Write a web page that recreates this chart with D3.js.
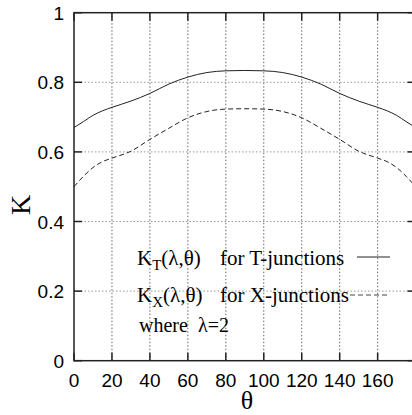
<!DOCTYPE html>
<html>
<head>
<meta charset="utf-8">
<style>
  body { margin: 0; background: #fff; }
  svg { display: block; }
</style>
</head>
<body>
<svg width="412" height="415" id="chart"></svg>
<script src="https://d3js.org/d3.v7.min.js"></script>
<script>

// angle theta in degrees
const theta = [0, 5, 10, 15, 20, 30, 40, 50, 60, 70, 80, 90, 100, 110, 120, 130, 140, 150, 160, 165, 170, 175, 180]
// K_T for T-junctions
const kT = [0.670, 0.687, 0.705, 0.718, 0.728, 0.746, 0.768, 0.795, 0.815, 0.828, 0.833, 0.834, 0.833, 0.828, 0.815, 0.795, 0.768, 0.746, 0.728, 0.718, 0.705, 0.687, 0.670]
// K_X for X-junctions
const kX = [0.500, 0.530, 0.555, 0.572, 0.582, 0.602, 0.636, 0.668, 0.698, 0.716, 0.723, 0.724, 0.723, 0.716, 0.698, 0.668, 0.636, 0.602, 0.582, 0.572, 0.555, 0.530, 0.500]

const xTicks = [0, 20, 40, 60, 80, 100, 120, 140, 160]
const yTicks = [0, 0.2, 0.4, 0.6, 0.8, 1]

const svg = d3.select('#chart')
const mLeft = 74, mRight = 415.6, mTop = 12.7, mBottom = 360.7

const x = d3.scaleLinear().domain([0, 180]).range([mLeft, mRight])
const y = d3.scaleLinear().domain([0, 1]).range([mBottom, mTop])

// grid
svg.append('g').selectAll('line')
  .data(xTicks.slice(1))
  .enter().append('line')
    .attr('x1', d => x(d)).attr('x2', d => x(d))
    .attr('y1', mBottom).attr('y2', mTop)
    .attr('stroke', '#666').attr('stroke-width', 1)
    .attr('stroke-dasharray', '1.5,2')

svg.append('g').selectAll('line')
  .data(yTicks.slice(1, -1))
  .enter().append('line')
    .attr('x1', mLeft).attr('x2', mRight)
    .attr('y1', d => y(d)).attr('y2', d => y(d))
    .attr('stroke', '#999').attr('stroke-width', 1)
    .attr('stroke-dasharray', '1.5,2')

// frame
svg.append('rect')
  .attr('x', mLeft).attr('y', mTop)
  .attr('width', mRight - mLeft).attr('height', mBottom - mTop)
  .attr('fill', 'none').attr('stroke', '#222').attr('stroke-width', 1.5)

// inward ticks
const tk = svg.append('g').attr('stroke', '#222').attr('stroke-width', 1.5)
xTicks.forEach(d => {
  tk.append('line').attr('x1', x(d)).attr('x2', x(d)).attr('y1', mBottom).attr('y2', mBottom - 8)
  tk.append('line').attr('x1', x(d)).attr('x2', x(d)).attr('y1', mTop).attr('y2', mTop + 8)
})
yTicks.forEach(d => {
  tk.append('line').attr('x1', mLeft).attr('x2', mLeft + 8).attr('y1', y(d)).attr('y2', y(d))
  tk.append('line').attr('x1', mRight).attr('x2', mRight - 8).attr('y1', y(d)).attr('y2', y(d))
})

// tick labels
svg.append('g').selectAll('text')
  .data(xTicks)
  .enter().append('text')
    .attr('x', d => x(d)).attr('y', 387)
    .attr('text-anchor', 'middle')
    .attr('font-family', 'Liberation Sans, Arial, sans-serif').attr('font-size', 19)
    .text(d => d)

svg.append('g').selectAll('text')
  .data(yTicks)
  .enter().append('text')
    .attr('x', 64).attr('y', d => y(d) + 7)
    .attr('text-anchor', 'end')
    .attr('font-family', 'Liberation Sans, Arial, sans-serif').attr('font-size', 19)
    .text(d => d)

// axis titles
svg.append('text')
  .attr('x', 247).attr('y', 409)
  .attr('text-anchor', 'middle')
  .attr('font-family', 'Liberation Serif, Times New Roman, serif').attr('font-size', 26)
  .text('θ')

svg.append('text')
  .attr('transform', 'translate(30,205) rotate(-90)')
  .attr('text-anchor', 'middle')
  .attr('font-family', 'Liberation Serif, Times New Roman, serif').attr('font-size', 28)
  .text('K')

// curves
const line = d3.line().x(d => x(d[0])).y(d => y(d[1])).curve(d3.curveMonotoneX)

svg.append('path')
  .datum(theta.map((t, i) => [t, kT[i]]))
  .attr('fill', 'none').attr('stroke', '#222').attr('stroke-width', 1)
  .attr('d', line)

svg.append('path')
  .datum(theta.map((t, i) => [t, kX[i]]))
  .attr('fill', 'none').attr('stroke', '#222').attr('stroke-width', 1)
  .attr('stroke-dasharray', '5,3')
  .attr('d', line)

// legend
const serif = 'Liberation Serif, Times New Roman, serif'
function legendRow(yy, sub, label) {
  const t = svg.append('text').attr('x', 137).attr('y', yy)
    .attr('font-family', serif).attr('font-size', 21)
  t.append('tspan').text('K')
  t.append('tspan').attr('font-size', 15).attr('dy', 5).text(sub)
  t.append('tspan').attr('dy', -5).text('(λ,θ)')
  svg.append('text').attr('x', 220).attr('y', yy)
    .attr('font-family', serif).attr('font-size', 21).text(label)
}
legendRow(265, 'T', 'for T-junctions')
legendRow(302, 'X', 'for X-junctions')

svg.append('line').attr('x1', 357).attr('x2', 390).attr('y1', 257).attr('y2', 257)
  .attr('stroke', '#222').attr('stroke-width', 1)
svg.append('line').attr('x1', 350).attr('x2', 390).attr('y1', 295).attr('y2', 295)
  .attr('stroke', '#444').attr('stroke-width', 1).attr('stroke-dasharray', '5,3')

svg.append('text').attr('x', 139).attr('y', 332)
  .attr('font-family', serif).attr('font-size', 20)
  .text('where')
svg.append('text').attr('x', 198).attr('y', 332)
  .attr('font-family', serif).attr('font-size', 20)
  .text('λ=2')

</script>
</body>
</html>
